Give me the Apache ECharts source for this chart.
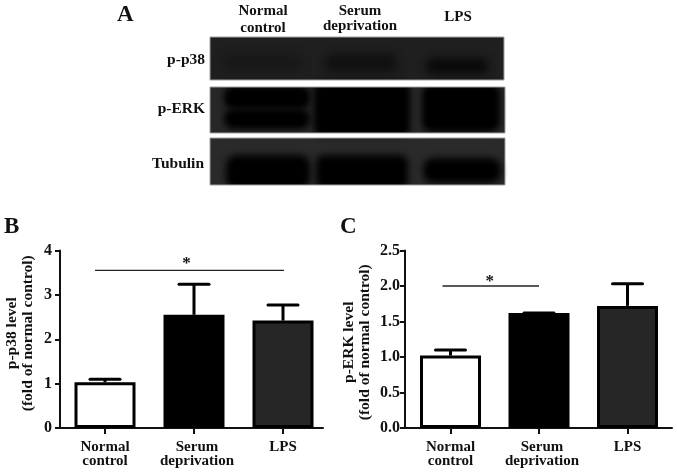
<!DOCTYPE html>
<html><head><meta charset="utf-8">
<style>html,body{margin:0;padding:0;background:#fff}#c{width:677px;height:472px}</style>
<script src="https://cdn.jsdelivr.net/npm/echarts@6/dist/echarts.min.js"></script>
</head><body><div id="c"></div>
<script>
const categories = ['Normal\ncontrol', 'Serum\ndeprivation', 'LPS'];
const barColors = ['#ffffff', '#000000', '#262626'];
const p38Mean = [1.03, 2.55, 2.42];
const p38Upper = [1.1, 3.24, 2.77];
const p38Ticks = [0, 1, 2, 3, 4];
const p38Sig = [[0, 2], 3.55];
const erkMean = [1.02, 1.62, 1.72];
const erkUpper = [1.1, 1.62, 2.03];
const erkTicks = [0, 0.5, 1.0, 1.5, 2.0, 2.5];
const erkSig = [[0, 1], 2.0];
const font = '"Liberation Serif","Times New Roman",serif';
const ink = '#111';

function panel(i, cfg) {
  const band = cfg.band, w = cfg.right - cfg.left;
  const xAxis = {
    gridIndex: i, type: 'value', min: -(cfg.tick0 - cfg.left) / band, max: (cfg.right - cfg.tick0) / band,
    splitLine: {show: false},
    axisLine: {show: true, onZero: false, lineStyle: {color: ink, width: 2}},
    axisTick: {show: true, customValues: [0, 1, 2], length: 6, lineStyle: {color: ink, width: 2}},
    axisLabel: {customValues: [0, 1.034, 2], formatter: v => categories[Math.round(v)], color: ink, margin: 12,
      fontFamily: font, fontWeight: 'bold', fontSize: 15, lineHeight: 14, showMinLabel: true, showMaxLabel: true}
  };
  const yAxis = {
    gridIndex: i, type: 'value', min: 0, max: cfg.ticks[cfg.ticks.length - 1], interval: cfg.ticks[1],
    name: cfg.yName, nameLocation: 'middle', nameGap: cfg.nameGap, nameRotate: 90,
    nameTextStyle: {color: ink, fontFamily: font, fontWeight: 'bold', fontSize: 15.5, lineHeight: 16, padding: cfg.namePad},
    splitLine: {show: false},
    axisLine: {show: true, onZero: false, lineStyle: {color: ink, width: 2}},
    axisTick: {show: true, length: 5, lineStyle: {color: ink, width: 2}},
    axisLabel: {color: ink, margin: cfg.labelMargin, fontFamily: font, fontWeight: 'bold', fontSize: 16, formatter: cfg.fmt}
  };
  const bars = {
    type: 'bar', xAxisIndex: i, yAxisIndex: i, barWidth: 61, z: 3,
    data: cfg.mean.map((v, k) => ({value: [k, v], itemStyle: {color: barColors[k], borderColor: '#000', borderWidth: 3}}))
  };
  const err = {
    type: 'custom', xAxisIndex: i, yAxisIndex: i, z: 2, silent: true,
    data: cfg.mean.map((v, k) => [k, v, cfg.upper[k]]),
    encode: {x: 0, y: [1, 2]},
    renderItem(p, api) {
      const a = api.coord([api.value(0), api.value(1)]), b = api.coord([api.value(0), api.value(2)]);
      return {type: 'group', children: [
        {type: 'line', shape: {x1: a[0], y1: a[1], x2: a[0], y2: b[1]}, style: {stroke: '#000', lineWidth: 3}},
        {type: 'line', shape: {x1: a[0] - 15, y1: b[1], x2: a[0] + 15, y2: b[1]}, style: {stroke: '#000', lineWidth: 3, lineCap: 'round'}}
      ]};
    }
  };
  const sig = {
    type: 'custom', xAxisIndex: i, yAxisIndex: i, z: 4, silent: true,
    data: [[cfg.sig[0][0], cfg.sig[0][1], cfg.sig[1]]],
    encode: {x: [0, 1], y: 2},
    renderItem(p, api) {
      const a = api.coord([api.value(0), api.value(2)]), b = api.coord([api.value(1), api.value(2)]);
      const x1 = a[0] + cfg.sigPad[0], x2 = b[0] + cfg.sigPad[1];
      return {type: 'group', children: [
        {type: 'line', shape: {x1, y1: a[1], x2, y2: b[1]}, style: {stroke: '#222', lineWidth: 1.3}},
        {type: 'text', style: {x: (x1 + x2) / 2 + cfg.starDx, y: a[1] + cfg.starDy, text: '*', align: 'center', verticalAlign: 'bottom',
          fill: ink, font: 'bold 17px ' + font}}
      ]};
    }
  };
  return {grid: {left: cfg.left, width: w, top: 250.5, height: 177.5}, xAxis, yAxis, series: [err, bars, sig]};
}

const B = panel(0, {left: 60, right: 323, tick0: 105, band: 89, ticks: p38Ticks, mean: p38Mean, upper: p38Upper,
  sig: p38Sig, sigPad: [-10, 1], starDx: -3, starDy: 2, labelMargin: 8, namePad: [0, 0, 0, 12],
  yName: 'p-p38 level\n(fold of normal control)', nameGap: 24, fmt: v => String(v)});
const C = panel(1, {left: 405, right: 672, tick0: 450.5, band: 88.5, ticks: erkTicks, mean: erkMean, upper: erkUpper,
  sig: erkSig, sigPad: [-8, 0], starDx: -1, starDy: 4, labelMargin: 5, namePad: [0, 6, 0, 0],
  yName: 'p-ERK level\n(fold of normal control)', nameGap: 32, fmt: v => v.toFixed(1)});

const blots = [
  {x: 210, y: 37, w: 294, h: 43, bg: '#1f1f1f', blobs: [[222,54,80,18,8,'#191919',8],[325,54,72,18,8,'#111111',8],[426,58,62,16,8,'#0a0a0a',8]]},
  {x: 210, y: 87, w: 295, h: 46, bg: '#272727', blobs: [[224,86,86,23,9,'#000',6],[224,109,86,20,9,'#000',6],[314,82,96,54,8,'#000',6],[422,84,78,48,10,'#000',6]]},
  {x: 210, y: 138, w: 295, h: 47, bg: '#2a2a2a', blobs: [[226,155,84,34,10,'#000',7],[316,155,92,34,8,'#000',7],[423,158,78,25,10,'#000',7]]}
];
const blotLabels = [['p-p38', 205, 60], ['p-ERK', 205, 109], ['Tubulin', 204, 164]];
const laneLabels = [['Normal\ncontrol', 263, 19.5, 16.5], ['Serum\ndeprivation', 360, 18.5, 15], ['LPS', 458, 17, 15]];
const panelLetters = [['A', 117, 15], ['B', 4, 227], ['C', 340, 227]];

const FAR = 2000;
const graphics = [];
blots.forEach(b => {
  graphics.push({type: 'rect', silent: true, shape: {x: b.x, y: b.y, width: b.w, height: b.h},
    style: {fill: b.bg}, z: 1});
  b.blobs.forEach(e => graphics.push({type: 'rect', silent: true, shape: {x: e[0] - FAR, y: e[1], width: e[2], height: e[3], r: e[4]},
    style: {fill: '#000', shadowBlur: e[6], shadowColor: e[5], shadowOffsetX: FAR}, z: 2}));
});
[[205, 20, 305, 17], [205, 80, 305, 7], [205, 133, 305, 5], [205, 185, 305, 14]].forEach(r =>
  graphics.push({type: 'rect', silent: true, shape: {x: r[0], y: r[1], width: r[2], height: r[3]}, style: {fill: '#fff'}, z: 3}));
blots.forEach(b => graphics.push({type: 'rect', silent: true, shape: {x: b.x, y: b.y, width: b.w, height: b.h},
  style: {fill: 'none', stroke: '#a0a0a0', lineWidth: 1}, z: 4}));
blotLabels.forEach(l => graphics.push({type: 'text', silent: true, z: 5,
  style: {x: l[1], y: l[2], text: l[0], align: 'right', verticalAlign: 'middle', fill: ink, font: 'bold 15.5px ' + font}}));
laneLabels.forEach(l => graphics.push({type: 'text', silent: true, z: 5,
  style: {x: l[1], y: l[2], text: l[0], align: 'center', verticalAlign: 'middle', lineHeight: l[3], fill: ink, font: 'bold 15px ' + font}}));
panelLetters.forEach(l => graphics.push({type: 'text', silent: true, z: 5,
  style: {x: l[1], y: l[2], text: l[0], align: 'left', verticalAlign: 'middle', fill: ink, font: 'bold 23px ' + font}}));

const chart = echarts.init(document.getElementById('c'), null, {renderer: 'canvas', width: 677, height: 472});
chart.setOption({
  animation: false, backgroundColor: '#fff',
  grid: [B.grid, C.grid], xAxis: [B.xAxis, C.xAxis], yAxis: [B.yAxis, C.yAxis],
  series: [...B.series, ...C.series], graphic: graphics
});
</script></body></html>
